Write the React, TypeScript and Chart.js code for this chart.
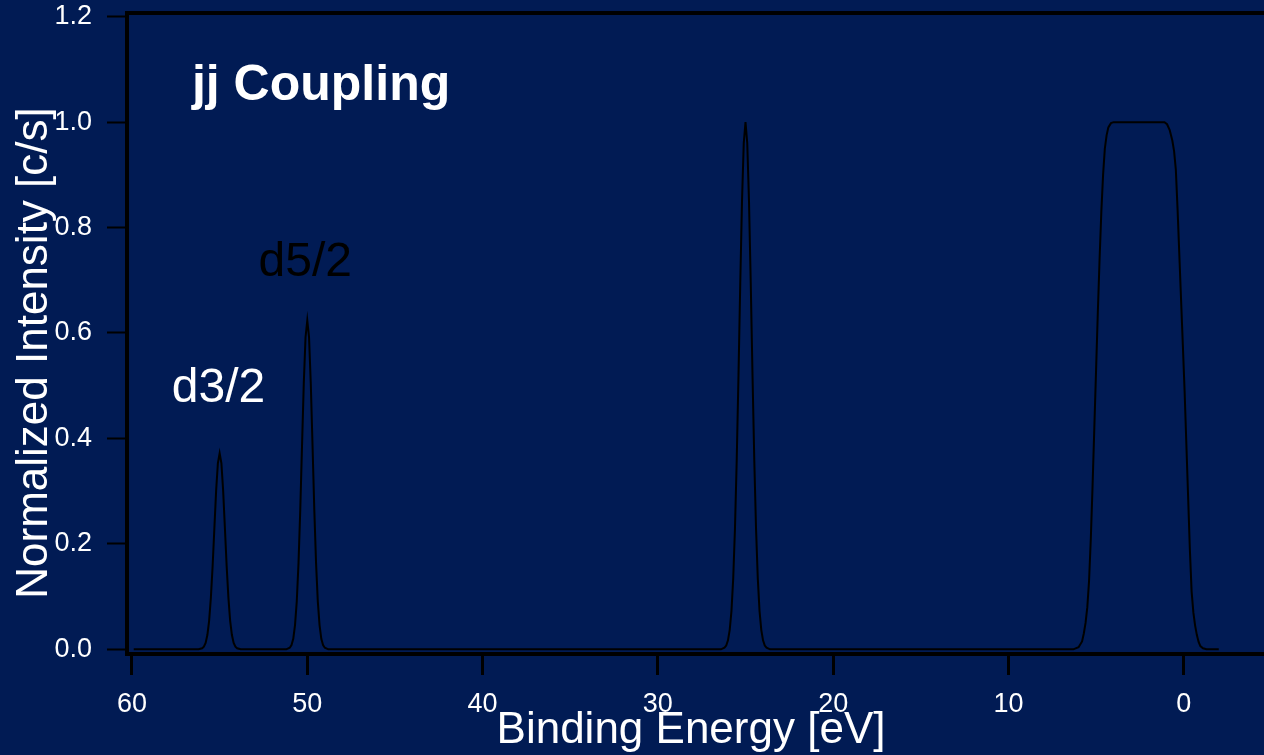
import React, { useEffect, useRef } from 'react';
import { Chart, registerables } from 'chart.js';

Chart.register(...registerables);

// ---- data (binding energy in eV, normalized intensity) ----
const startEnergy = [59.9];
const startIntensity = [0];

const d32Energy = [56.2, 56.0, 55.9, 55.8, 55.7, 55.6, 55.5, 55.4, 55.3, 55.2, 55.1, 55.0, 54.9, 54.8, 54.7, 54.6, 54.5, 54.4, 54.3, 54.2, 54.1, 54.0, 53.8];
const d32Intensity = [0, 0.002, 0.005, 0.012, 0.027, 0.054, 0.098, 0.158, 0.23, 0.301, 0.353, 0.372, 0.353, 0.301, 0.23, 0.158, 0.098, 0.054, 0.027, 0.012, 0.005, 0.002, 0];

const d52Energy = [51.2, 51.0, 50.9, 50.8, 50.7, 50.6, 50.5, 50.4, 50.3, 50.2, 50.1, 50.0, 49.9, 49.8, 49.7, 49.6, 49.5, 49.4, 49.3, 49.2, 49.1, 49.0, 48.8];
const d52Intensity = [0, 0.003, 0.008, 0.02, 0.046, 0.091, 0.164, 0.265, 0.386, 0.504, 0.592, 0.624, 0.592, 0.504, 0.386, 0.265, 0.164, 0.091, 0.046, 0.02, 0.008, 0.003, 0];

const peak25Energy = [26.4, 26.2, 26.1, 26.0, 25.9, 25.8, 25.7, 25.6, 25.5, 25.4, 25.3, 25.2, 25.1, 25.0, 24.9, 24.8, 24.7, 24.6, 24.5, 24.4, 24.3, 24.2, 24.1, 24.0, 23.9, 23.8, 23.6];
const peak25Intensity = [0, 0.003, 0.007, 0.017, 0.037, 0.073, 0.135, 0.23, 0.36, 0.52, 0.693, 0.849, 0.96, 1.0, 0.96, 0.849, 0.693, 0.52, 0.36, 0.23, 0.135, 0.073, 0.037, 0.017, 0.007, 0.003, 0];

const plateauEnergy = [6.3, 6.0, 5.8, 5.7, 5.6, 5.5, 5.4, 5.3, 5.2, 5.1, 5.0, 4.9, 4.8, 4.7, 4.6, 4.5, 4.4, 4.3, 4.15, 4.0, 1.1, 0.95, 0.8, 0.65, 0.55, 0.45, 0.35, 0.25, 0.15, 0.05, -0.05, -0.15, -0.25, -0.35, -0.45, -0.55, -0.65, -0.75, -0.85, -0.95, -1.1, -1.3];
const plateauIntensity = [0, 0.004, 0.015, 0.03, 0.05, 0.08, 0.13, 0.21, 0.31, 0.42, 0.53, 0.64, 0.74, 0.83, 0.9, 0.95, 0.975, 0.99, 0.998, 1.0, 1.0, 0.996, 0.985, 0.965, 0.945, 0.91, 0.834, 0.748, 0.662, 0.577, 0.49, 0.39, 0.29, 0.19, 0.11, 0.07, 0.045, 0.027, 0.014, 0.006, 0.002, 0];

const endEnergy = [-2.0];
const endIntensity = [0];

const xTickValues = [60, 50, 40, 30, 20, 10, 0];
const yTickValues = [0, 0.2, 0.4, 0.6, 0.8, 1.0, 1.2];

const xTitle = 'Binding Energy [eV]';
const yTitle = 'Normalized Intensity [c/s]';

const noteTexts = ['jj Coupling', 'd3/2', 'd5/2'];
const noteEnergy = [56.58, 57.73, 52.78];
const noteIntensity = [1.042, 0.4697, 0.708];

// ---- styling ----
const BG = '#011b54';
const FONT = "'Liberation Sans', Arial, Helvetica, sans-serif";
const noteStyles = [
  { color: '#ffffff', font: `bold 50px ${FONT}` },
  { color: '#ffffff', font: `48px ${FONT}` },
  { color: '#000000', font: `48px ${FONT}` },
];

function buildPoints() {
  const e = [...startEnergy, ...d32Energy, ...d52Energy, ...peak25Energy, ...plateauEnergy, ...endEnergy];
  const v = [...startIntensity, ...d32Intensity, ...d52Intensity, ...peak25Intensity, ...plateauIntensity, ...endIntensity];
  return e.map((x, i) => ({ x, y: v[i] }));
}

const decorPlugin = {
  id: 'decor',
  afterDraw(chart: any) {
    const { ctx, chartArea, scales } = chart;
    ctx.save();
    // top frame line
    ctx.strokeStyle = '#000';
    ctx.lineWidth = 4;
    ctx.beginPath();
    ctx.moveTo(chartArea.left - 2, chartArea.top);
    ctx.lineTo(chartArea.right, chartArea.top);
    ctx.stroke();

    // notes
    ctx.textAlign = 'left';
    ctx.textBaseline = 'alphabetic';
    noteTexts.forEach((t, i) => {
      ctx.fillStyle = noteStyles[i].color;
      ctx.font = noteStyles[i].font;
      ctx.fillText(t, scales.x.getPixelForValue(noteEnergy[i]), scales.y.getPixelForValue(noteIntensity[i]));
    });

    // axis titles
    ctx.fillStyle = '#ffffff';
    ctx.font = `44px ${FONT}`;
    ctx.textAlign = 'center';
    ctx.fillText(xTitle, 691, 743);
    ctx.translate(47, 353);
    ctx.rotate(-Math.PI / 2);
    ctx.fillText(yTitle, 0, 0);
    ctx.restore();
  },
};

export default function App() {
  const canvasRef = useRef<HTMLCanvasElement | null>(null);

  useEffect(() => {
    const canvas = canvasRef.current;
    if (!canvas) return;
    const chart = new Chart(canvas, {
      type: 'line',
      data: {
        datasets: [
          {
            data: buildPoints(),
            borderColor: '#000000',
            borderWidth: 2,
            pointRadius: 0,
            tension: 0,
            fill: false,
          },
        ],
      },
      options: {
        animation: false,
        responsive: false,
        maintainAspectRatio: false,
        layout: { padding: { top: 13, left: 0, right: 0, bottom: 0 } },
        plugins: { legend: { display: false }, tooltip: { enabled: false }, title: { display: false } },
        scales: {
          x: {
            type: 'linear',
            reverse: true,
            min: -4.58,
            max: 60.285,
            afterBuildTicks: (s: any) => {
              s.ticks = xTickValues.map((value) => ({ value }));
            },
            afterFit: (s: any) => {
              s.height = 101;
              s.paddingLeft = 0;
              s.paddingRight = 0;
            },
            grid: { display: true, drawOnChartArea: false, drawTicks: true, tickLength: 21, tickWidth: 3, tickColor: '#000' },
            border: { display: true, color: '#000', width: 4 },
            ticks: {
              color: '#ffffff',
              font: { family: FONT, size: 27 },
              padding: 13,
              maxRotation: 0,
              autoSkip: false,
              callback: (v: any) => String(Math.round(Number(v))),
            },
          },
          y: {
            type: 'linear',
            min: -0.0089,
            max: 1.207,
            afterBuildTicks: (s: any) => {
              s.ticks = yTickValues.map((value) => ({ value }));
            },
            afterFit: (s: any) => {
              s.width = 127;
              s.paddingTop = 0;
              s.paddingBottom = 0;
            },
            grid: { display: true, drawOnChartArea: false, drawTicks: true, tickLength: 20, tickWidth: 2, tickColor: '#000' },
            border: { display: true, color: '#000', width: 4 },
            ticks: {
              color: '#ffffff',
              font: { family: FONT, size: 27 },
              padding: 15,
              autoSkip: false,
              callback: (v: any) => Number(v).toFixed(1),
            },
          },
        },
      },
      plugins: [decorPlugin],
    });
    return () => chart.destroy();
  }, []);

  return (
    <div style={{ position: 'fixed', left: 0, top: 0, width: 1264, height: 755, background: BG }}>
      <canvas ref={canvasRef} width={1264} height={755} style={{ display: 'block', width: 1264, height: 755 }} />
    </div>
  );
}
